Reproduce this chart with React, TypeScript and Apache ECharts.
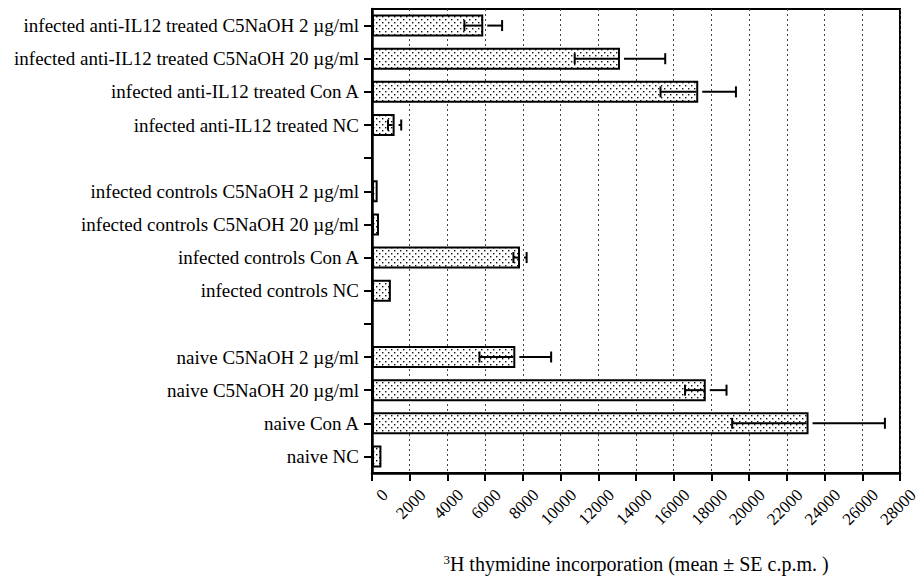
import React, { useEffect, useRef } from "react";
import * as echarts from "echarts";

const categories = [
  "infected anti-IL12 treated C5NaOH 2 µg/ml",
  "infected anti-IL12 treated C5NaOH 20 µg/ml",
  "infected anti-IL12 treated Con A",
  "infected anti-IL12 treated NC",
  " ",
  "infected controls C5NaOH 2 µg/ml",
  "infected controls C5NaOH 20 µg/ml",
  "infected controls Con A",
  "infected controls NC",
  "  ",
  "naive C5NaOH 2 µg/ml",
  "naive C5NaOH 20 µg/ml",
  "naive Con A",
  "naive NC",
];
const means: (number | null)[] = [5900, 13150, 17300, 1200, null, 300, 370, 7850, 1000, null, 7600, 17700, 23150, 500];
const errors: (number | null)[] = [1000, 2400, 2000, 350, null, 0, 0, 350, 0, null, 1900, 1100, 4050, 0];

const FONT = "'Liberation Serif', 'Times New Roman', 'DejaVu Serif', serif";

function makePattern() {
  const c = document.createElement("canvas");
  c.width = 6;
  c.height = 6;
  const ctx = c.getContext("2d")!;
  ctx.fillStyle = "#fff";
  ctx.fillRect(0, 0, 6, 6);
  ctx.fillStyle = "#111";
  ctx.fillRect(1, 1, 1.4, 1.4);
  ctx.fillRect(4, 4, 1.4, 1.4);
  return c;
}

export default function App() {
  const ref = useRef<HTMLDivElement>(null);
  useEffect(() => {
    if (!ref.current) return;
    const chart = echarts.init(ref.current, null, { renderer: "svg" });
    const pat = makePattern();
    const errData: any[] = [];
    means.forEach((m, i) => {
      const e = errors[i];
      if (m != null && e) errData.push([m, i, e]);
    });
    chart.setOption({
      animation: false,
      backgroundColor: "#fff",
      textStyle: { fontFamily: FONT },
      grid: {
        left: 372,
        right: 21,
        top: 9,
        bottom: 104,
        containLabel: false,
        outerBoundsMode: "none",
        show: true,
        borderColor: "#000",
        borderWidth: 2,
        backgroundColor: "transparent",
      },
      xAxis: {
        type: "value",
        min: 0,
        max: 28000,
        interval: 2000,
        axisLine: { show: true, lineStyle: { color: "#000", width: 2.5 } },
        axisTick: { show: true, length: 8, lineStyle: { color: "#000", width: 2 } },
        splitLine: { show: true, lineStyle: { color: "#444", type: [2, 3], width: 1 } },
        axisLabel: {
          rotate: 45,
          margin: 6,
          align: "right",
          verticalAlign: "top",
          padding: [10, 0, 0, 0],
          color: "#000",
          fontFamily: FONT,
          fontSize: 17,
          formatter: (v: number) => String(v),
        },
        name: "{sup|3}H thymidine incorporation (mean ± SE c.p.m. )",
        nameLocation: "middle",
        nameGap: 80,
        nameTextStyle: {
          color: "#000",
          fontFamily: FONT,
          fontSize: 20,
          rich: {
            sup: { fontFamily: FONT, fontSize: 13, verticalAlign: "top", padding: [0, 0, 8, 0], color: "#000" },
          },
        },
      },
      yAxis: {
        type: "category",
        inverse: true,
        data: categories,
        axisLine: { show: true, lineStyle: { color: "#000", width: 2.5 } },
        axisTick: { show: true, alignWithLabel: true, length: 8, lineStyle: { color: "#000", width: 2 } },
        splitLine: { show: false },
        axisLabel: {
          margin: 13,
          color: "#000",
          fontFamily: FONT,
          fontSize: 19,
        },
      },
      series: [
        {
          type: "bar",
          data: means.map((m) => (m == null ? "-" : m)),
          barWidth: 22,
          itemStyle: {
            color: { image: pat, repeat: "repeat", imageWidth: 6, imageHeight: 6 } as any,
            borderColor: "#000",
            borderWidth: 2,
          },
        },
        {
          type: "custom",
          data: errData,
          encode: { x: 0, y: 1 },
          z: 5,
          renderItem: (params: any, api: any) => {
            const m = api.value(0);
            const idx = api.value(1);
            const e = api.value(2);
            const mid = api.coord([m, idx]);
            const lo = api.coord([m - e, idx]);
            const hi = api.coord([m + e, idx]);
            const y = mid[1];
            const cap = 5.5;
            const style = { stroke: "#000", lineWidth: 2 };
            return {
              type: "group",
              children: [
                { type: "line", shape: { x1: lo[0], y1: y, x2: mid[0] - 2, y2: y }, style },
                { type: "line", shape: { x1: lo[0], y1: y - cap, x2: lo[0], y2: y + cap }, style },
                { type: "line", shape: { x1: mid[0] + 4, y1: y, x2: hi[0], y2: y }, style },
                { type: "line", shape: { x1: hi[0], y1: y - cap, x2: hi[0], y2: y + cap }, style },
              ],
            };
          },
        },
      ],
    });
    return () => chart.dispose();
  }, []);
  return (
    <div
      ref={ref}
      style={{ position: "fixed", left: 0, top: 0, width: 921, height: 577, background: "#fff" }}
    />
  );
}
